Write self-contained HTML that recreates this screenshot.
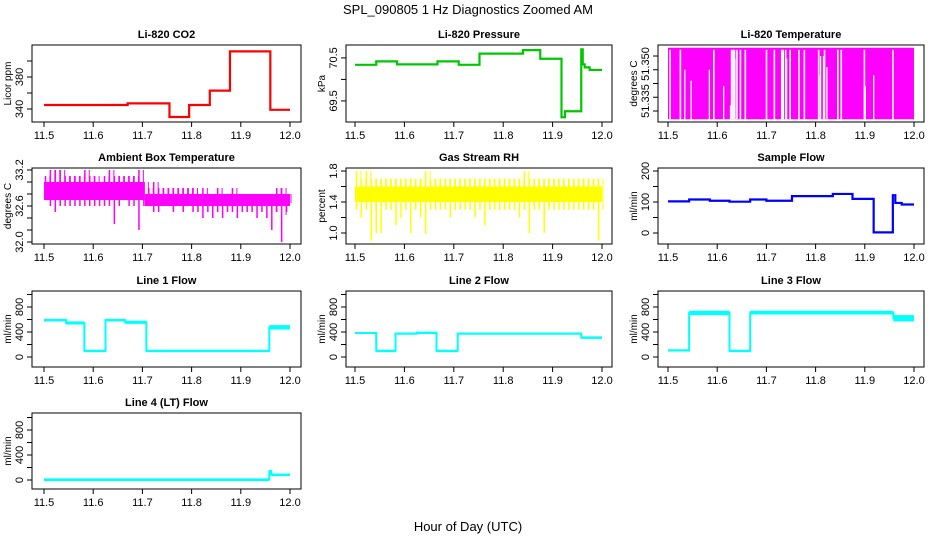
<!DOCTYPE html>
<html><head><meta charset="utf-8"><style>
body{margin:0;background:#fff}
svg{display:block;font-family:"Liberation Sans",Arial,sans-serif}
</style></head><body>
<svg id="c" width="936" height="540" viewBox="0 0 936 540">
<text x="468" y="14" text-anchor="middle" font-size="13">SPL_090805  1 Hz Diagnostics Zoomed AM</text>
<text x="468" y="531" text-anchor="middle" font-size="13">Hour of Day (UTC)</text>
</svg>
<script>
// ---- data ----
const xTicks=[11.5,11.6,11.7,11.8,11.9,12.0];
const xTickLabels=["11.5","11.6","11.7","11.8","11.9","12.0"];
const co2Times=[11.5,11.67,11.755,11.795,11.837,11.878,11.96,12.0];
const co2Values=[345,347,330,345,363,412,339];
const presTimes=[11.5,11.543,11.585,11.667,11.71,11.752,11.84,11.875,11.918,11.925,11.958,11.961,11.965,11.975,12.0];
const presValues=[70.34,70.42,70.35,70.42,70.34,70.60,70.68,70.48,69.12,69.26,70.70,70.35,70.28,70.22];
const tempGapHours=[11.504,11.525,11.593,11.629,11.632,11.635,11.64,11.647,11.657,11.70,11.716,11.731,11.734,11.739,11.748,11.766,11.777,11.806,11.818,11.845,11.852,11.899,11.957];
const tempPartialHours=[11.534,11.547,11.584,11.613,11.627,11.636,11.741,11.807,11.81,11.816,11.823,11.901,11.918];
const tempPartialLevels=[51.345,51.341,51.345,51.339,51.332,51.349,51.349,51.343,51.350,51.350,51.346,51.339,51.343];
const ambMax=[33.1,33.2,33.2,33.2,33.1,33.1,33.1,33.1,33.2,33.1,33.1,33.0,33.1,33.2,33.1,33.1,33.1,33.1,33.1,33.2,33.0,32.9,33.0,32.9,32.9,32.9,32.9,32.9,32.9,32.9,32.9,32.8,32.9,32.8,32.8,32.9,32.8,32.8,32.9,32.8,32.8,32.8,32.8,32.8,32.8,32.8,32.8,32.9,32.9,32.8];
const ambMin=[32.7,32.6,32.5,32.6,32.6,32.6,32.6,32.6,32.6,32.6,32.6,32.6,32.6,32.6,32.3,32.6,32.7,32.6,32.6,32.2,32.6,32.6,32.5,32.5,32.6,32.6,32.5,32.6,32.5,32.6,32.5,32.5,32.4,32.5,32.4,32.5,32.4,32.5,32.5,32.4,32.5,32.5,32.5,32.4,32.5,32.4,32.2,32.5,32.0,32.5];
const ambCoreLo=[32.7,32.6];
const ambCoreHi=[33.0,32.8];
const ambCoreStart=[11.5,11.705];
const ambCoreEnd=[11.705,12.0];
const rhMax=[1.8,1.7,1.8,1.7,1.7,1.7,1.7,1.7,1.7,1.7,1.7,1.7,1.7,1.7,1.8,1.7,1.7,1.7,1.7,1.7,1.7,1.7,1.7,1.7,1.7,1.7,1.7,1.7,1.7,1.7,1.7,1.7,1.7,1.7,1.8,1.7,1.7,1.7,1.7,1.7,1.7,1.7,1.7,1.7,1.7,1.7,1.7,1.7,1.7,1.7];
const rhMin=[1.3,1.2,1.3,0.9,1.0,1.0,1.3,1.3,1.1,1.2,1.3,1.0,1.3,1.2,0.99,1.3,1.3,1.3,1.3,1.2,1.3,1.3,1.3,1.3,1.2,1.3,1.1,1.3,1.3,1.3,1.3,1.3,1.3,1.2,1.3,1.0,1.3,1.3,1.0,1.3,1.3,1.3,1.3,1.3,1.3,1.3,1.3,1.3,1.3,0.9];
const rhCoreLo=[1.4];
const rhCoreHi=[1.6];
const flowTimes=[11.5,11.543,11.585,11.625,11.667,11.70,11.752,11.835,11.875,11.918,11.957,11.962,11.975,12.0];
const flowValues=[102,108,104,101,108,104,119,126,110,2,122,97,92];
const l1Start=[11.5,11.545,11.582,11.625,11.665,11.708,11.958];
const l1Lo=[570,520,90,570,530,90,440];
const l1Hi=[610,570,110,610,580,110,510];
const l2Start=[11.5,11.543,11.582,11.625,11.665,11.708,11.958];
const l2Lo=[370,90,360,380,90,360,290];
const l2Hi=[400,110,390,400,110,390,330];
const l3Start=[11.5,11.543,11.625,11.667,11.958];
const l3Lo=[95,670,90,680,570];
const l3Hi=[120,740,110,740,670];
const l4Start=[11.5,11.958,11.962];
const l4Lo=[5,120,80];
const l4Hi=[15,160,95];

// ---- layout ----
const NS="http://www.w3.org/2000/svg";
const svg=document.getElementById('c');
const cols=[{bx0:32,bx1:301,x0:44,x1:290},{bx0:346,bx1:612,x0:355,x1:602},{bx0:658,bx1:924,x0:668,x1:914}];
const rows=[[45,122],[168,244],[291,367],[413,489]];
function el(tag,attrs,parent){const e=document.createElementNS(NS,tag);for(const k in attrs)e.setAttribute(k,attrs[k]);(parent||svg).appendChild(e);return e;}

function panel(name,title,ci,ri,dom,yTicks,yLabels,yTitle){
  const c=cols[ci],r=rows[ri];
  const g=el('g',{});
  
  
  const X=h=>c.x0+(h-11.5)/0.5*(c.x1-c.x0);
  const Y=v=>r[1]-(v-dom[0])/(dom[1]-dom[0])*(r[1]-r[0]);
  const box=el('rect',{x:c.bx0,y:r[0],width:c.bx1-c.bx0,height:r[1]-r[0],fill:'none',stroke:'#000','stroke-width':1},g);
  
  
  const t=el('text',{x:(c.bx0+c.bx1)/2,y:r[0]-7,'text-anchor':'middle','font-size':11,'font-weight':'bold'},g);
  t.textContent=title;
  
  
  xTicks.forEach((h,i)=>{
    el('line',{x1:X(h),x2:X(h),y1:r[1],y2:r[1]+5,stroke:'#000'},g);
    const tl=el('text',{x:X(h),y:r[1]+17,'text-anchor':'middle','font-size':11},g);
    tl.textContent=xTickLabels[i];
    
    
  });
  yTicks.forEach(v=>{el('line',{x1:c.bx0-5,x2:c.bx0,y1:Y(v),y2:Y(v),stroke:'#000'},g);});
  yLabels.forEach(([v,txt])=>{
    const yy=(typeof v==='number')?Y(v):v.px;
    const tl=el('text',{x:0,y:0,'text-anchor':'middle','font-size':11,transform:`translate(${c.bx0-9},${yy}) rotate(-90)`},g);
    tl.textContent=txt;
    
    
  });
  const yt=el('text',{x:0,y:0,'text-anchor':'middle','font-size':10,transform:`translate(${c.bx0-21},${(r[0]+r[1])/2}) rotate(-90)`},g);
  yt.textContent=yTitle;
  
  
  return {g,X,Y};
}
function step(p,times,vals,color,w,name){
  let d='';
  vals.forEach((v,i)=>{d+=(i?'L':'M')+p.X(times[i])+','+p.Y(v)+'L'+p.X(times[i+1])+','+p.Y(v);});
  const pa=el('path',{d,fill:'none',stroke:color,'stroke-width':w},p.g);
  
  
}
function bands(p,starts,lo,hi,color,name){
  let d='';
  starts.forEach((s,i)=>{
    const e=i<starts.length-1?starts[i+1]:12.0;
    const m=(lo[i]+hi[i])/2;
    d+=(i?'L':'M')+p.X(s)+','+p.Y(m)+'L'+p.X(e)+','+p.Y(m);
    const rc=el('rect',{x:p.X(s),y:p.Y(hi[i]),width:p.X(e)-p.X(s),height:Math.max(2,p.Y(lo[i])-p.Y(hi[i])),fill:color},p.g);
    
    
  });
  const pa=el('path',{d,fill:'none',stroke:color,'stroke-width':2},p.g);
  
  
}
function noisy(p,mins,maxs,coreS,coreE,coreLo,coreHi,color,name){
  coreLo.forEach((lo,i)=>{
    const rc=el('rect',{x:p.X(coreS[i]),y:p.Y(coreHi[i]),width:p.X(coreE[i])-p.X(coreS[i]),height:p.Y(lo)-p.Y(coreHi[i]),fill:color},p.g);
    
    
  });
  const n=mins.length;
  mins.forEach((mn,i)=>{
    const h=11.5+(i+0.3)*0.5/n;
    const ln=el('line',{x1:p.X(h),x2:p.X(h),y1:p.Y(mn),y2:p.Y(maxs[i]),stroke:color,'stroke-width':1.5},p.g);
    
    
    const h2=h+0.45/n;
    const ln2=el('line',{x1:p.X(h2),x2:p.X(h2),y1:p.Y((mn+maxs[i])/2),y2:p.Y(maxs[i]),stroke:color,'stroke-width':1},p.g);
    
    
  });
}

// CO2
const p1=panel('co2','Li-820 CO2',0,0,[323.75,420],[340,360,380,400],[[340,'340'],[380,'380']],'Licor ppm');
step(p1,co2Times,co2Values,'#ff0000',2.2,'co2-line');
// Pressure
const p2=panel('pressure','Li-820 Pressure',1,0,[69.01,70.80],[69.5,70,70.5],[[69.5,'69.5'],[70.5,'70.5']],'kPa');
step(p2,presTimes,presValues,'#00c800',2.2,'pressure-line');
// Temperature
const p3=panel('temperature','Li-820 Temperature',2,0,[51.326,51.354],[51.330,51.335,51.340,51.345,51.350],[[{px:64},'51.350'],[{px:101},'51.335']],'degrees C');
{
  const top=51.353,bot=51.327;
  const rc=el('rect',{x:p3.X(11.5),y:p3.Y(top),width:p3.X(12.0)-p3.X(11.5),height:p3.Y(bot)-p3.Y(top),fill:'#ff00ff'},p3.g);
  
  
  tempGapHours.forEach(h=>{
    const ln=el('rect',{x:p3.X(h)-0.7,y:p3.Y(top)+2,width:1.6,height:p3.Y(bot)-p3.Y(top)-2,fill:'#fff'},p3.g);
    
    
  });
  tempPartialHours.forEach((h,i)=>{
    const ln=el('rect',{x:p3.X(h)-0.6,y:p3.Y(tempPartialLevels[i]),width:1.3,height:p3.Y(bot)-p3.Y(tempPartialLevels[i]),fill:'#fff'},p3.g);
    
    
  });
}
// Ambient
const p4=panel('ambient','Ambient Box Temperature',0,1,[31.967,33.233],[32.0,32.2,32.4,32.6,32.8,33.0,33.2],[[32.0,'32.0'],[32.6,'32.6'],[33.2,'33.2']],'degrees C');
noisy(p4,ambMin,ambMax,ambCoreStart,ambCoreEnd,ambCoreLo,ambCoreHi,'#ff00ff','ambient');
// RH
const p5=panel('rh','Gas Stream RH',1,1,[0.858,1.839],[1.0,1.2,1.4,1.6,1.8],[[1.0,'1.0'],[1.4,'1.4'],[1.8,'1.8']],'percent');
noisy(p5,rhMin,rhMax,[11.5],[12.0],rhCoreLo,rhCoreHi,'#ffff00','rh');
// Sample flow
const p6=panel('sample-flow','Sample Flow',2,1,[-35.5,209.7],[0,50,100,150,200],[[0,'0'],[100,'100'],[200,'200']],'ml/min');
step(p6,flowTimes,flowValues,'#0000ff',2.2,'sample-flow-line');
// Line flows
const fTicks=[0,200,400,600,800,1000],fLabels=[[0,'0'],[400,'400'],[800,'800']];
const p7=panel('line1-flow','Line 1 Flow',0,2,[-160,1056],fTicks,fLabels,'ml/min');
bands(p7,l1Start,l1Lo,l1Hi,'#00ffff','line1-flow');
const p8=panel('line2-flow','Line 2 Flow',1,2,[-160,1056],fTicks,fLabels,'ml/min');
bands(p8,l2Start,l2Lo,l2Hi,'#00ffff','line2-flow');
const p9=panel('line3-flow','Line 3 Flow',2,2,[-160,1056],fTicks,fLabels,'ml/min');
bands(p9,l3Start,l3Lo,l3Hi,'#00ffff','line3-flow');
const p10=panel('line4-flow','Line 4 (LT) Flow',0,3,[-144,1072],fTicks,fLabels,'ml/min');
bands(p10,l4Start,l4Lo,l4Hi,'#00ffff','line4-flow');
</script>
</body></html>
